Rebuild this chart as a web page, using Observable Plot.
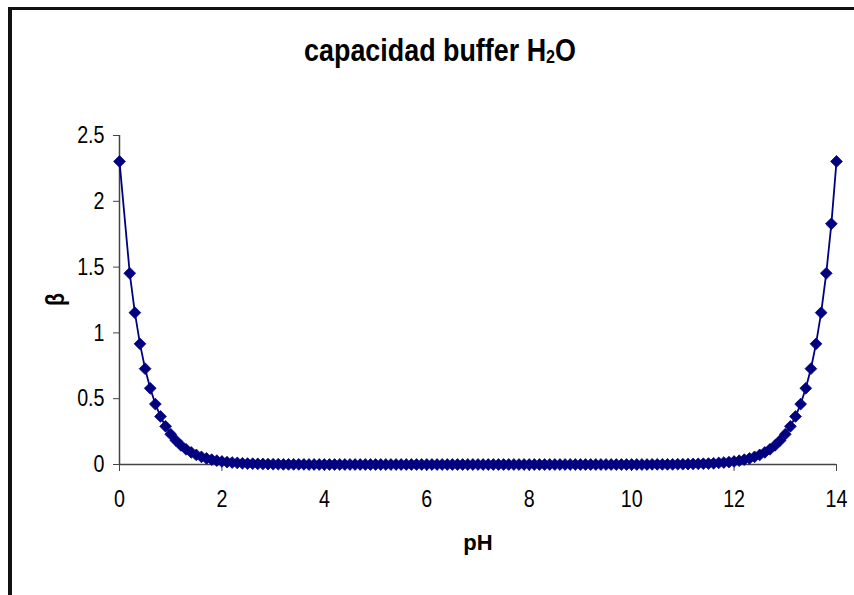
<!DOCTYPE html>
<html>
<head>
<meta charset="utf-8">
<script src="https://cdn.jsdelivr.net/npm/d3@7"></script>
<script src="https://cdn.jsdelivr.net/npm/@observablehq/plot@0.6"></script>
<style>
  html, body { margin: 0; padding: 0; background: #fff; }
  #wrap { position: relative; width: 854px; height: 595px; overflow: hidden; background: #fff; }
  #frame { position: absolute; left: 8px; top: 7px; width: 900px; height: 700px;
           border-left: 4px solid #111; border-top: 3px solid #111; box-sizing: border-box; }
  #title { position: absolute; left: 0; top: 34px; width: 880px; text-align: center;
           font-family: "Liberation Sans", Arial, sans-serif;
           font-weight: bold; font-size: 32px; line-height: 32px; color: #000;
           transform: scaleX(0.84); transform-origin: 440px 50%; }
  #title .sub { font-size: 0.6em; vertical-align: -0.12em; }
  #chart { position: absolute; left: 0; top: 0; }
</style>
</head>
<body>
<div id="wrap">
  <div id="frame"></div>
  <div id="chart"></div>
  <div id="title">capacidad buffer H<span class="sub">2</span>O</div>
</div>
<script>
// pH values (x)
const pH = [
  0, 0.2, 0.3, 0.4, 0.5, 0.6, 0.7, 0.8, 0.9, 1.0,
  1.1, 1.2, 1.3, 1.4, 1.5, 1.6, 1.7, 1.8, 1.9, 2.0,
  2.1, 2.2, 2.3, 2.4, 2.5, 2.6, 2.7, 2.8, 2.9, 3.0,
  3.1, 3.2, 3.3, 3.4, 3.5, 3.6, 3.7, 3.8, 3.9, 4.0,
  4.1, 4.2, 4.3, 4.4, 4.5, 4.6, 4.7, 4.8, 4.9, 5.0,
  5.1, 5.2, 5.3, 5.4, 5.5, 5.6, 5.7, 5.8, 5.9, 6.0,
  6.1, 6.2, 6.3, 6.4, 6.5, 6.6, 6.7, 6.8, 6.9, 7.0,
  7.1, 7.2, 7.3, 7.4, 7.5, 7.6, 7.7, 7.8, 7.9, 8.0,
  8.1, 8.2, 8.3, 8.4, 8.5, 8.6, 8.7, 8.8, 8.9, 9.0,
  9.1, 9.2, 9.3, 9.4, 9.5, 9.6, 9.7, 9.8, 9.9, 10.0,
  10.1, 10.2, 10.3, 10.4, 10.5, 10.6, 10.7, 10.8, 10.9, 11.0,
  11.1, 11.2, 11.3, 11.4, 11.5, 11.6, 11.7, 11.8, 11.9, 12.0,
  12.1, 12.2, 12.3, 12.4, 12.5, 12.6, 12.7, 12.8, 12.9, 13.0,
  13.1, 13.2, 13.3, 13.4, 13.5, 13.6, 13.7, 13.8, 13.9, 14.0
];
// buffer capacity beta (y)
const beta = [
  2.303, 1.453, 1.154, 0.917, 0.728, 0.579, 0.459, 0.365, 0.290, 0.230,
  0.183, 0.145, 0.115, 0.092, 0.073, 0.058, 0.046, 0.037, 0.029, 0.023,
  0.018, 0.015, 0.012, 0.009, 0.007, 0.006, 0.005, 0.004, 0.003, 0.002,
  0.002, 0.001, 0.001, 0.001, 0.001, 0.001, 0, 0, 0, 0,
  0, 0, 0, 0, 0, 0, 0, 0, 0, 0,
  0, 0, 0, 0, 0, 0, 0, 0, 0, 0,
  0, 0, 0, 0, 0, 0, 0, 0, 0, 0,
  0, 0, 0, 0, 0, 0, 0, 0, 0, 0,
  0, 0, 0, 0, 0, 0, 0, 0, 0, 0,
  0, 0, 0, 0, 0, 0, 0, 0, 0, 0,
  0, 0, 0, 0.001, 0.001, 0.001, 0.001, 0.001, 0.002, 0.002,
  0.003, 0.004, 0.005, 0.006, 0.007, 0.009, 0.012, 0.015, 0.018, 0.023,
  0.029, 0.037, 0.046, 0.058, 0.073, 0.092, 0.115, 0.145, 0.183, 0.230,
  0.290, 0.365, 0.459, 0.579, 0.728, 0.917, 1.154, 1.453, 1.829, 2.303
];
const xTicks = [0, 2, 4, 6, 8, 10, 12, 14];
const yTicks = [0, 0.5, 1, 1.5, 2, 2.5];
const yTickLabels = ["0", "0.5", "1", "1.5", "2", "2.5"];
const xDomain = [0, 14];
const yDomain = [0, 2.5];
const xLabel = "pH";
const yLabel = "β";

const data = pH.map((p, i) => ({pH: p, beta: beta[i]}));
const navy = "#000080";
const axisColor = "#444";
const font = "\"Liberation Sans\", Arial, sans-serif";

const chart = Plot.plot({
  width: 854,
  height: 595,
  marginLeft: 119,
  marginRight: 18,
  marginTop: 135,
  marginBottom: 131,
  style: {fontFamily: font, fontSize: "24px", color: "#000", background: "transparent", overflow: "visible"},
  x: {domain: xDomain, ticks: xTicks},
  y: {domain: yDomain, ticks: yTicks},
  marks: [
    Plot.axisX({ticks: xTicks, tickSize: 7, tickPadding: 18, stroke: axisColor, fill: "#000", label: null, fontSize: 24}),
    Plot.axisY({ticks: yTicks, tickSize: 6, tickPadding: 9, stroke: axisColor, fill: "#000", label: null,
                tickFormat: (d) => yTickLabels[yTicks.indexOf(d)], fontSize: 24}),
    Plot.ruleY([yDomain[0]], {x1: xDomain[0], x2: xDomain[1], stroke: axisColor, strokeWidth: 1.5}),
    Plot.ruleX([xDomain[0]], {y1: yDomain[0], y2: yDomain[1], stroke: axisColor, strokeWidth: 1.5}),
    Plot.line(data, {x: "pH", y: "beta", stroke: navy, strokeWidth: 1.8}),
    Plot.dot(data, {x: "pH", y: "beta", symbol: "diamond2", r: 5.3, fill: navy, stroke: navy, strokeWidth: 0.8}),
    Plot.text([xLabel], {frameAnchor: "bottom", dy: 85, text: (d) => d, fontWeight: "bold", fontSize: 22,
                         fill: "#000"}),
    Plot.text([yLabel], {frameAnchor: "left", dx: -64, dy: 6, rotate: -90, text: (d) => d, fontWeight: "bold", fontSize: 26,
                         fill: "#000"})
  ]
});
document.getElementById("chart").appendChild(chart);

// horizontally condense tick labels and the β label to match the narrow lettering
const condense = (el, k) => {
  const L = el.getComputedTextLength();
  if (L > 0) {
    el.setAttribute("textLength", (L * k).toFixed(2));
    el.setAttribute("lengthAdjust", "spacingAndGlyphs");
  }
};
chart.querySelectorAll("g[aria-label$='tick label'] text").forEach((t) => condense(t, 0.82));
chart.querySelectorAll("text").forEach((t) => { if (t.textContent === yLabel) condense(t, 0.82); });
</script>
</body>
</html>
